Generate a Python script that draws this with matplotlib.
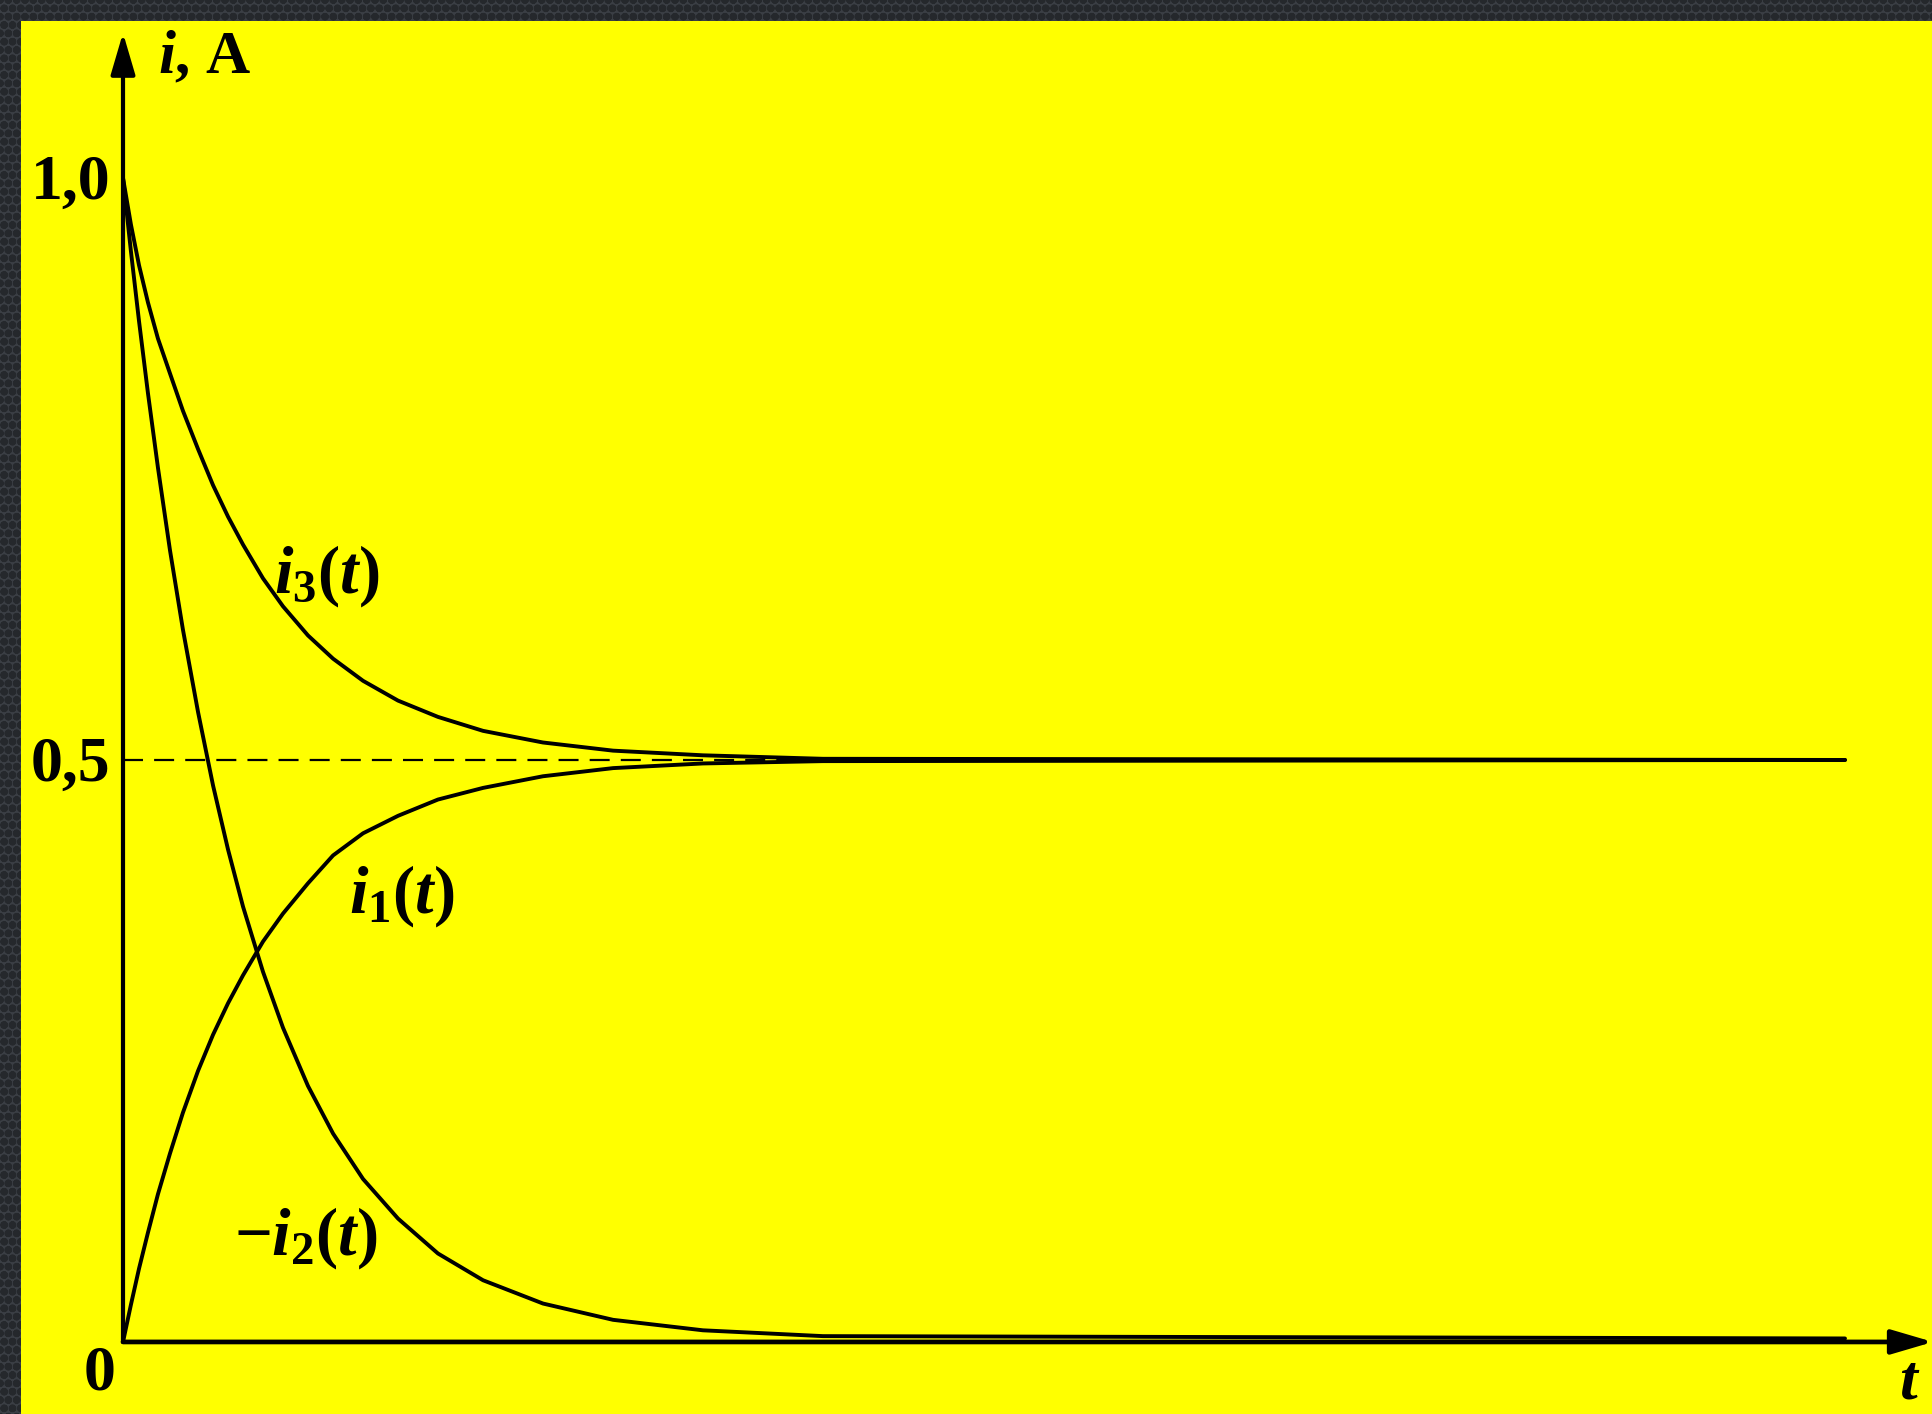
import matplotlib
matplotlib.use('Agg')
import matplotlib.pyplot as plt
from matplotlib.patches import Rectangle

plt.rcParams['font.family'] = ['Liberation Serif', 'DejaVu Serif']
plt.rcParams['font.weight'] = 'bold'
plt.rcParams['mathtext.fontset'] = 'custom'
plt.rcParams['mathtext.rm'] = 'Liberation Serif:bold'
plt.rcParams['mathtext.it'] = 'Liberation Serif:italic:bold'
plt.rcParams['mathtext.bf'] = 'Liberation Serif:bold'
plt.rcParams['hatch.linewidth'] = 3.0

# transient currents (t in arbitrary units, i in A)
t = [0.0, 0.046, 0.093, 0.145, 0.203, 0.273, 0.348, 0.436, 0.523, 0.610,
     0.697, 0.813, 0.929, 1.074, 1.220, 1.394, 1.597, 1.829, 2.091, 2.439,
     2.846, 3.368, 4.065, 10.0]
minus_i2 = [1.000, 0.937, 0.877, 0.815, 0.751, 0.680, 0.612, 0.541, 0.478, 0.423,
            0.374, 0.318, 0.270, 0.220, 0.179, 0.140, 0.106, 0.076, 0.053, 0.033,
            0.019, 0.010, 0.005, 0.003]
i3 = [1.000, 0.960, 0.925, 0.893, 0.862, 0.832, 0.800, 0.767, 0.736, 0.709,
      0.685, 0.656, 0.632, 0.607, 0.587, 0.568, 0.551, 0.537, 0.525, 0.515,
      0.508, 0.504, 0.501, 0.500]
i1 = [0.000, 0.032, 0.063, 0.094, 0.127, 0.162, 0.197, 0.233, 0.264, 0.291,
      0.315, 0.344, 0.368, 0.394, 0.418, 0.437, 0.452, 0.466, 0.476, 0.486,
      0.493, 0.497, 0.499, 0.500]

steady = 0.5
y_ticks = [1.0, 0.5]
y_tick_labels = ['1,0', '0,5']

fig = plt.figure(figsize=(19.33, 14.14), dpi=100)
fig.patch.set_facecolor('#3a3e44')
# dotted dark frame and the yellow slide area, kept behind the axes
fig.patches.append(Rectangle((0, 0), 1, 1, transform=fig.transFigure,
                             facecolor='#3a3e44', edgecolor='#25282c',
                             hatch='oo', lw=0, zorder=-2))
fig.patches.append(Rectangle((21 / 1933, 0), 1, (1414 - 21) / 1414,
                             transform=fig.transFigure, facecolor='#ffff00',
                             lw=0, zorder=-1))

ax = fig.add_axes([0, 0, 1, 1])
ax.patch.set_alpha(0)
ax.axis('off')
ax.set_xlim(-0.7143, 10.511)
ax.set_ylim(-0.0619, 1.1529)

# axes with arrow heads
arrow = dict(arrowstyle='-|>,head_length=0.85,head_width=0.25', mutation_scale=30,
             color='black', lw=3.0, shrinkA=0, shrinkB=0)
ax.annotate('', xy=(0, 1.1246), xytext=(0, 0), arrowprops=arrow)
arrow_x = dict(arrow, lw=3.4)
ax.annotate('', xy=(10.511, 0), xytext=(0, 0), arrowprops=arrow_x)

# steady-state level
ax.plot([0, t[-1]], [steady, steady], color='black', lw=1.6,
        dashes=(9.0, 5.0), zorder=2)

line = dict(color='black', lw=2.8, zorder=3, solid_joinstyle='round',
            solid_capstyle='round')
ax.plot(t, minus_i2, **line)
ax.plot(t, i3, **line)
ax.plot(t, i1, **line)

for val, lab in zip(y_ticks, y_tick_labels):
    ax.text(-0.075, val - 0.018, lab, ha='right', va='baseline', fontsize=46,
            fontweight='bold')
ax.text(-0.045, -0.041, '0', ha='right', va='baseline', fontsize=46,
        fontweight='bold')

ax.text(0.203, 1.090, r'$i$, A', ha='left', va='baseline', fontsize=44)
ax.text(10.44, -0.049, r'$t$', ha='right', va='baseline', fontsize=46)

ax.text(0.877, 0.644, r'$i_3(t)$', ha='left', va='baseline', fontsize=48)
ax.text(1.312, 0.369, r'$i_1(t)$', ha='left', va='baseline', fontsize=48)
ax.text(0.645, 0.075, r'$-i_2(t)$', ha='left', va='baseline', fontsize=48)

fig.savefig('out.png', dpi=100, facecolor=fig.get_facecolor())
